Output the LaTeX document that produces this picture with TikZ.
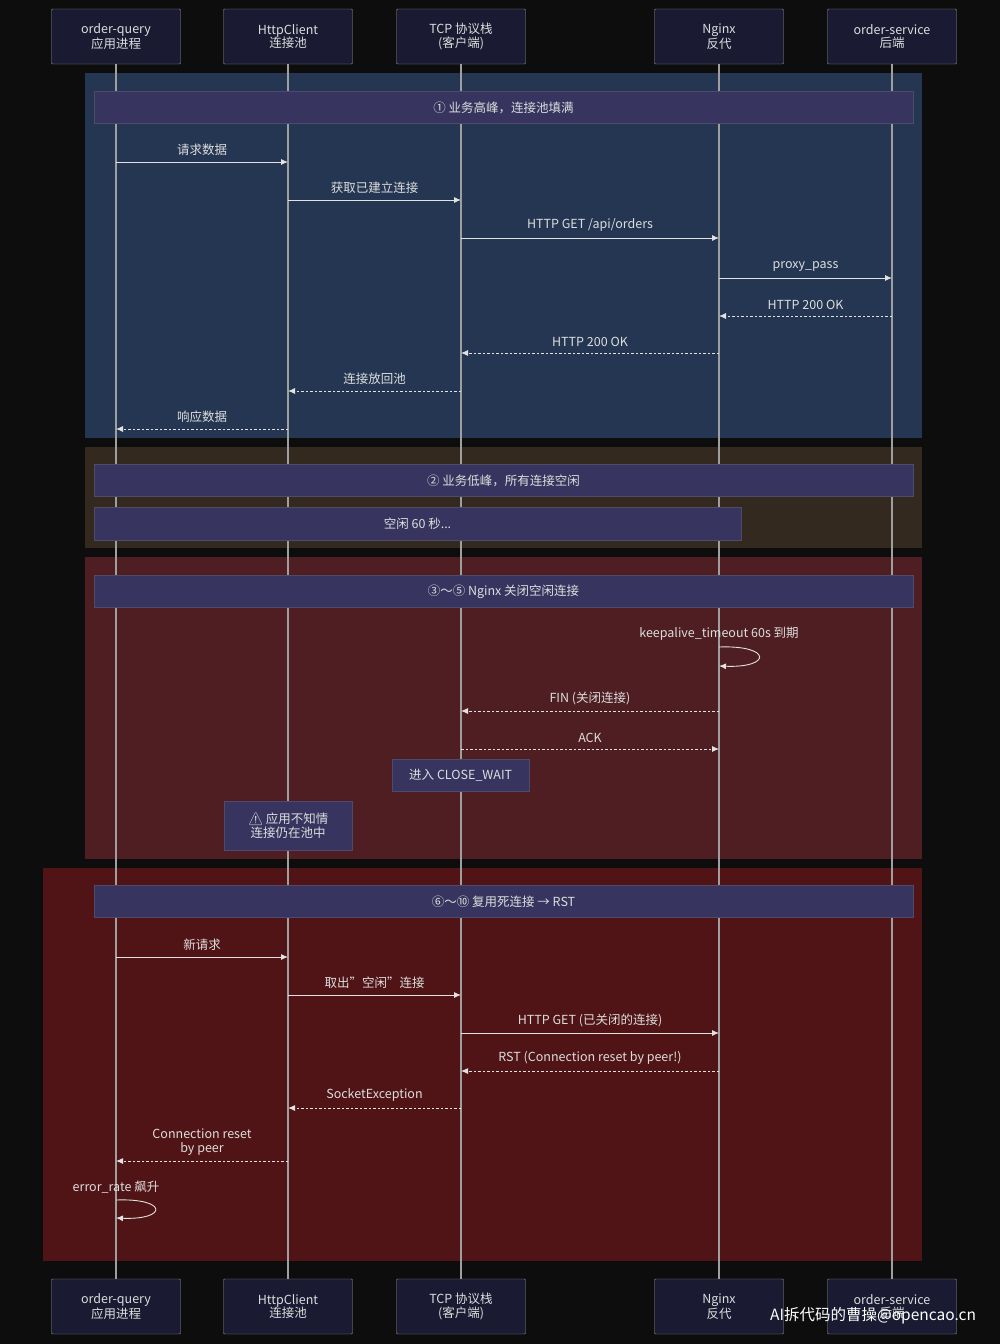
\documentclass[tikz,border=0pt]{standalone}
\usepackage{fontspec}
\setmainfont{Noto Sans CJK SC}
\newfontfamily\emo{Noto Emoji}
\usetikzlibrary{arrows.meta}
\definecolor{bg}{HTML}{0D0D0D}
\definecolor{txt}{HTML}{DDDDDD}
\definecolor{pfill}{HTML}{1A1A32}
\definecolor{nfill}{HTML}{37355F}
\definecolor{rblue}{HTML}{243652}
\definecolor{rbrown}{HTML}{33291F}
\definecolor{rred}{HTML}{4F1E22}
\definecolor{rred2}{HTML}{501416}
\tikzset{
 x=1pt,y=-1pt,
 every node/.style={text=txt,font=\fontsize{12.5}{14}\selectfont,inner sep=0pt},
 part/.style={draw=gray!80,fill=pfill,minimum width=129,minimum height=55,align=center,rounded corners=1,font=\fontsize{12.5}{13.5}\selectfont},
 notebar/.style={fill=nfill,draw=nfill!70!gray,anchor=north west},
 life/.style={draw=gray!75,line width=1.2},
 msg/.style={draw=txt!85,line width=0.9,-{Latex[length=7,width=6]}},
 rmsg/.style={msg,dashed,dash pattern=on 2.5 off 2},
}
\begin{document}
\begin{tikzpicture}
\fill[bg] (0,0) rectangle (1000,1344);
\useasboundingbox (0,0) rectangle (1000,1344);
\fill[rblue] (85,73) rectangle (922,438);
\fill[rbrown] (85,447) rectangle (922,548);
\fill[rred] (85,557) rectangle (922,859);
\fill[rred2] (43,868) rectangle (922,1261);
\foreach \n/\x/\a/\b in {A/116/order-query/应用进程,B/288/HttpClient/连接池,C/461/TCP 协议栈/(客户端),D/719/Nginx/反代,E/892/order-service/后端}{
 \node[part] (\n t) at (\x,36.5) {\a\\\b};
 \node[part] (\n b) at (\x,1306.5) {\a\\\b};
 \draw[life] (\n t.south) -- (\n b.north);
}
\foreach \y/\t in {91/{① 业务高峰，连接池填满},464/{② 业务低峰，所有连接空闲},575/{③〜⑤ Nginx 关闭空闲连接},885/{⑥〜⑩ 复用死连接 → RST}}{
 \node[notebar,minimum width=819,minimum height=32] at (94,\y) {};
 \node at (503.5,\y+16.5) {\t};
}
\node[notebar,minimum width=647,minimum height=33] (idle) at (94,507) {};
\node at (417.5,524) {空闲 60 秒...};
\draw[msg] (At|-0,162) -- node[above=6pt]{请求数据} (Bt|-0,162);
\draw[msg] (Bt|-0,200) -- node[above=6pt]{获取已建立连接} (Ct|-0,200);
\draw[msg] (Ct|-0,238) -- node[above=6pt]{HTTP GET /api/orders} (Dt|-0,238);
\draw[msg] (Dt|-0,278) -- node[above=6pt]{proxy\_pass} (Et|-0,278);
\draw[rmsg] (Et|-0,316) -- node[above=6pt]{HTTP 200 OK} (Dt|-0,316);
\draw[rmsg] (Dt|-0,353) -- node[above=6pt]{HTTP 200 OK} (Ct|-0,353);
\draw[rmsg] (Ct|-0,391) -- node[above=6pt]{连接放回池} (Bt|-0,391);
\draw[rmsg] (Bt|-0,429) -- node[above=6pt]{响应数据} (At|-0,429);
\node at (719,634) {keepalive\_timeout 60s 到期};
\coordinate (k1) at (719,647); \coordinate (k2) at (719,666);
\draw[msg] (k1) .. controls (772,645) and (772,668) .. (k2);
\draw[rmsg] (Dt|-0,711) -- node[above=6pt]{FIN (关闭连接)} (Ct|-0,711);
\draw[rmsg] (Ct|-0,749) -- node[above=6pt]{ACK} (Dt|-0,749);
\node[notebar,minimum width=137,minimum height=32] (cw) at (392,759) {};
\node at (cw.center) {进入 CLOSE\_WAIT};
\node[notebar,minimum width=128,minimum height=49] (warn) at (224,801) {};
\node[align=center] at (warn.center) {{\emo ⚠}\,应用不知情\\连接仍在池中};
\draw[msg] (At|-0,957) -- node[above=6pt]{新请求} (Bt|-0,957);
\draw[msg] (Bt|-0,995) -- node[above=6pt]{取出"空闲"连接} (Ct|-0,995);
\draw[msg] (Ct|-0,1033) -- node[above=6pt]{HTTP GET (已关闭的连接)} (Dt|-0,1033);
\draw[rmsg] (Dt|-0,1071) -- node[above=6pt]{RST (Connection reset by peer!)} (Ct|-0,1071);
\draw[rmsg] (Ct|-0,1108) -- node[above=6pt]{SocketException} (Bt|-0,1108);
\draw[rmsg] (Bt|-0,1161) -- node[above=5pt,align=center]{Connection reset\\by peer} (At|-0,1161);
\node at (116,1187) {error\_rate 飙升};
\coordinate (e1) at (116,1200); \coordinate (e2) at (116,1218);
\draw[msg] (e1) .. controls (168,1198) and (168,1220) .. (e2);
\node[anchor=west,font=\fontsize{15.5}{16}\selectfont,text=white] at (770,1316) {AI拆代码的曹操@opencao.cn};
\end{tikzpicture}
\end{document}
